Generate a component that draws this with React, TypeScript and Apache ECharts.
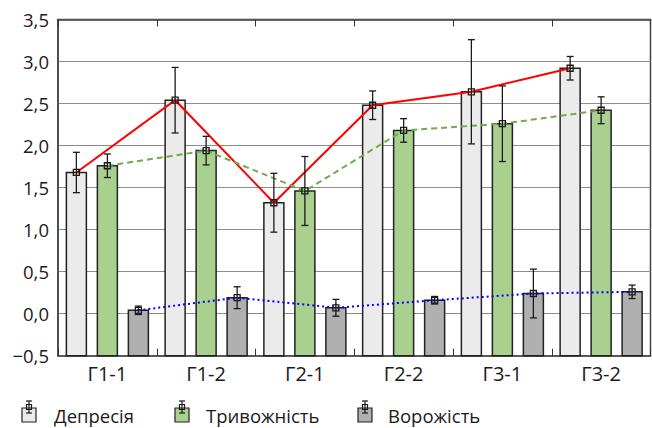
import React, { useEffect, useRef } from "react";
import * as echarts from "echarts";

const categories = ["Г1-1", "Г1-2", "Г2-1", "Г2-2", "Г3-1", "Г3-2"];
const seriesNames = ["Депресія", "Тривожність", "Ворожість"];
const depression = [1.68, 2.54, 1.32, 2.48, 2.64, 2.92];
const depressionErr = [0.24, 0.39, 0.35, 0.17, 0.62, 0.14];
const anxiety = [1.76, 1.94, 1.46, 2.18, 2.26, 2.42];
const anxietyErr = [0.14, 0.17, 0.41, 0.14, 0.45, 0.16];
const hostility = [0.04, 0.19, 0.07, 0.16, 0.24, 0.26];
const hostilityErr = [0.05, 0.13, 0.1, 0.045, 0.29, 0.08];

const Y_MIN = -0.5;
const Y_MAX = 3.5;
const Y_STEP = 0.5;

const FONT = "'Open Sans', 'Noto Sans', sans-serif";
const BAR_W = 20;
const BAR_GAP = 11;
const fills = ["#ebebeb", "#a9d08e", "#b0b0b0"];
const lineColors = ["#ff0000", "#70ad47", "#0000ff"];
const lineDashes: any[] = [null, [6, 4], [2, 3]];

export default function App() {
  const ref = useRef<HTMLDivElement>(null);
  useEffect(() => {
    document.body.style.margin = "0";
    const chart = echarts.init(ref.current!, null, { renderer: "svg" });
    const groups = [
      { vals: depression, errs: depressionErr },
      { vals: anxiety, errs: anxietyErr },
      { vals: hostility, errs: hostilityErr },
    ];
    const series: any[] = [];
    groups.forEach((g, k) => {
      const offset = (k - 1) * (BAR_W + BAR_GAP);
      series.push({
        type: "custom",
        name: seriesNames[k],
        z: 2,
        data: g.vals.map((v, i) => [i, v]),
        renderItem: (params: any, api: any) => {
          const i = api.value(0);
          const v = api.value(1);
          const top = api.coord([i, v]);
          const base = api.coord([i, Y_MIN]);
          return {
            type: "rect",
            shape: { x: top[0] + offset - BAR_W / 2, y: top[1], width: BAR_W, height: base[1] - top[1] },
            style: { fill: fills[k], stroke: "#222", lineWidth: 1.5 },
          };
        },
      });
    });
    groups.forEach((g, k) => {
      const offset = (k - 1) * (BAR_W + BAR_GAP);
      series.push({
        type: "custom",
        z: 3,
        data: [[0, g.vals[0]]],
        renderItem: (params: any, api: any) => {
          const pts = g.vals.map((v, i) => {
            const c = api.coord([i, v]);
            return [c[0] + offset, c[1]];
          });
          return {
            type: "polyline",
            shape: { points: pts },
            style: { stroke: lineColors[k], lineWidth: 2, lineDash: lineDashes[k], fill: null },
          };
        },
      });
    });
    groups.forEach((g, k) => {
      const offset = (k - 1) * (BAR_W + BAR_GAP);
      series.push({
        type: "custom",
        z: 4,
        data: g.vals.map((v, i) => [i, v, g.errs[i]]),
        renderItem: (params: any, api: any) => {
          const i = api.value(0);
          const v = api.value(1);
          const e = api.value(2);
          const c = api.coord([i, v]);
          const hi = api.coord([i, v + e]);
          const lo = api.coord([i, v - e]);
          const x = c[0] + offset;
          const st = { stroke: "#1a1a1a", lineWidth: 1.3 };
          return {
            type: "group",
            children: [
              { type: "line", shape: { x1: x, y1: hi[1], x2: x, y2: lo[1] }, style: st },
              { type: "line", shape: { x1: x - 3.5, y1: hi[1], x2: x + 3.5, y2: hi[1] }, style: st },
              { type: "line", shape: { x1: x - 3.5, y1: lo[1], x2: x + 3.5, y2: lo[1] }, style: st },
              { type: "rect", shape: { x: x - 3, y: c[1] - 3, width: 6, height: 6 }, style: { ...st, fill: null } },
            ],
          };
        },
      });
    });

    const legendIconX = [22, 175, 358];
    const legendTextX = [54, 206, 388];
    const graphic: any[] = [];
    seriesNames.forEach((n, k) => {
      const x = legendIconX[k];
      const cx = x + 7;
      const st = { stroke: "#1a1a1a", lineWidth: 1.2 };
      graphic.push(
        { type: "rect", shape: { x, y: 408, width: 14, height: 14 }, style: { fill: fills[k], stroke: "#222", lineWidth: 1.2 } },
        { type: "line", shape: { x1: cx, y1: 401, x2: cx, y2: 413 }, style: st },
        { type: "line", shape: { x1: cx - 3, y1: 401, x2: cx + 3, y2: 401 }, style: st },
        { type: "line", shape: { x1: cx - 3, y1: 413, x2: cx + 3, y2: 413 }, style: st },
        { type: "rect", shape: { x: cx - 2.5, y: 404.5, width: 5, height: 5 }, style: { ...st, fill: null } },
        {
          type: "text",
          x: legendTextX[k],
          y: 415.5,
          style: { text: n, fontSize: 18.5, fontFamily: FONT, fill: "#1a1a1a", verticalAlign: "middle" },
        }
      );
    });

    chart.setOption({
      animation: false,
      textStyle: { fontFamily: FONT },
      grid: {
        left: 58,
        right: 1.5,
        top: 19.5,
        bottom: 72.3,
        show: true,
        borderColor: "#444",
        borderWidth: 1.5,
        backgroundColor: "transparent",
      },
      xAxis: [
        {
          type: "category",
          data: categories,
          position: "bottom",
          axisLine: { show: true, onZero: false, lineStyle: { color: "#444", width: 1.5 } },
          axisTick: { show: true, inside: true, length: 7, lineStyle: { color: "#333" } },
          axisLabel: { fontSize: 20, color: "#1a1a1a", margin: 8, fontFamily: FONT },
          splitLine: { show: false },
        },
        {
          type: "category",
          data: categories,
          position: "top",
          axisLine: { show: true, onZero: false, lineStyle: { color: "#444", width: 1.5 } },
          axisTick: { show: true, inside: true, length: 7, lineStyle: { color: "#333" } },
          axisLabel: { show: false },
          splitLine: { show: false },
        },
      ],
      yAxis: {
        type: "value",
        min: Y_MIN,
        max: Y_MAX,
        interval: Y_STEP,
        axisLine: { show: true, onZero: false, lineStyle: { color: "#444", width: 1.5 } },
        axisTick: { show: false },
        axisLabel: {
          fontSize: 18.5,
          color: "#1a1a1a",
          margin: 9,
          fontFamily: FONT,
          formatter: (v: number) => (v < 0 ? "\u2212" : "") + Math.abs(v).toFixed(1).replace(".", ","),
        },
        splitLine: { show: true, lineStyle: { color: "#8c8c8c", width: 1 } },
      },
      graphic,
      series,
    });
    return () => chart.dispose();
  }, []);
  return <div ref={ref} style={{ width: 652, height: 428 }} />;
}
